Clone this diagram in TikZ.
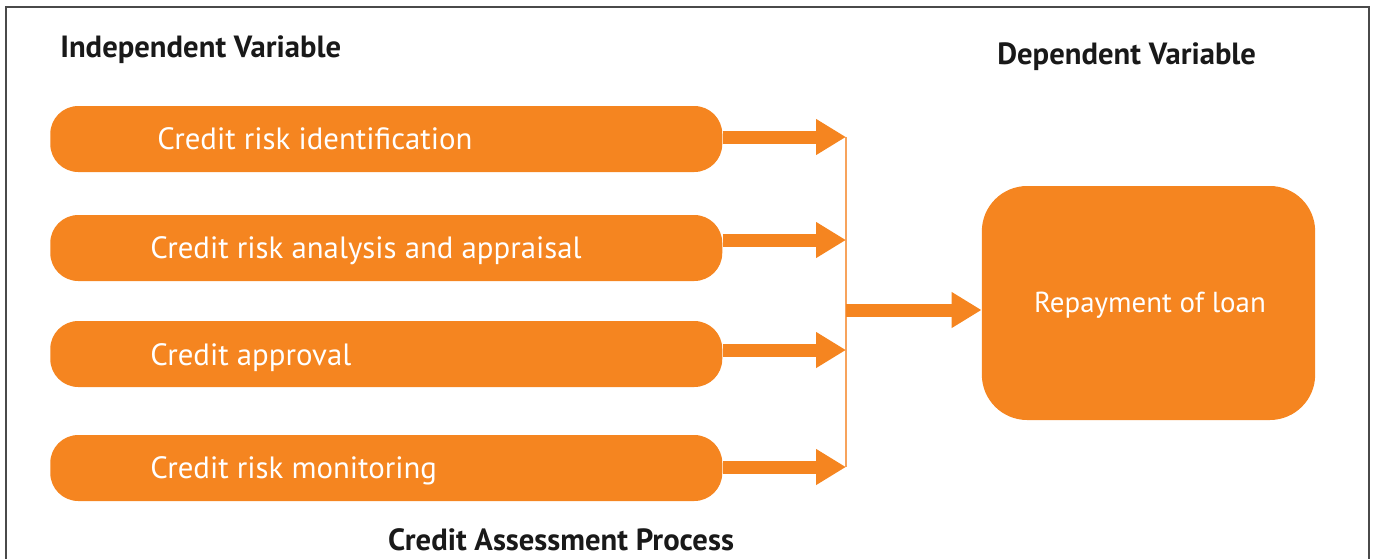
\documentclass[tikz,border=0pt]{standalone}
\usepackage{fontspec}
\setmainfont{PT Sans}
\usetikzlibrary{arrows.meta}
\definecolor{brandorange}{HTML}{F58520}
\definecolor{lineorange}{HTML}{F7A35C}
\definecolor{framegray}{HTML}{4A4A4A}
\begin{document}
\begin{tikzpicture}[x=0.75pt,y=-0.75pt,
  stagebox/.style={fill=brandorange,draw=none,rounded corners=21pt,
    minimum width=504pt,minimum height=49.5pt,inner sep=0pt,anchor=west},
  stagetext/.style={text=white,anchor=base west,inner sep=0pt,font=\fontsize{23.1}{27}\selectfont},
  resultbox/.style={fill=brandorange,draw=none,rounded corners=34pt,
    minimum width=250pt,minimum height=175.5pt,inner sep=0pt},
  resulttext/.style={text=white,anchor=base,inner sep=0pt,font=\fontsize{21.7}{26}\selectfont},
  heading/.style={inner sep=0pt,font=\bfseries\fontsize{23}{27}\selectfont,text=black!90},
  flow/.style={brandorange,line width=9.75pt,
    -{Triangle[length=22.5pt,width=25.5pt]}},
  joinline/.style={lineorange,line width=1.5pt}]
\useasboundingbox (0,0) rectangle (1375,558);
% outer frame (open at the bottom)
\draw[framegray,line width=1.1pt] (6,565) -- (6,7) -- (1369,7) -- (1369,565);

% headings
\node[heading,anchor=base west] (hind) at (60,57) {Independent Variable};
\node[heading,anchor=base west] (hdep) at (997,64) {Dependent Variable};
\node[heading,anchor=base] (hproc) at (561,550) {Credit Assessment Process};

% process stages
\node[stagebox] (b1) at (50,139) {};
\node[stagebox] (b2) at (50,248) {};
\node[stagebox] (b3) at (50,354) {};
\node[stagebox] (b4) at (50,468) {};
\node[stagetext] (t1) at (157,149) {Credit risk identification};
\node[stagetext] (t2) at (150,258) {Credit risk analysis and appraisal};
\node[stagetext] (t3) at (150,365) {Credit approval};
\node[stagetext] (t4) at (150,478) {Credit risk monitoring};

% outcome
\node[resultbox] (rep) at (1148.5,303) {};
\node[resulttext] (rept) at (1150,312) {Repayment of loan};

% junction points on the collecting line
\coordinate (j1) at (846,137);
\coordinate (j2) at (846,240);
\coordinate (j3) at (846,350);
\coordinate (j4) at (846,467);
\coordinate (jm) at (846,310);

\draw[joinline] (j1) -- (j4);
\draw[flow] (b1.east |- j1) -- (j1);
\draw[flow] (b2.east |- j2) -- (j2);
\draw[flow] (b3.east |- j3) -- (j3);
\draw[flow] (b4.east |- j4) -- (j4);
\draw[flow] (jm) -- (rep.west |- jm);
\end{tikzpicture}
\end{document}
